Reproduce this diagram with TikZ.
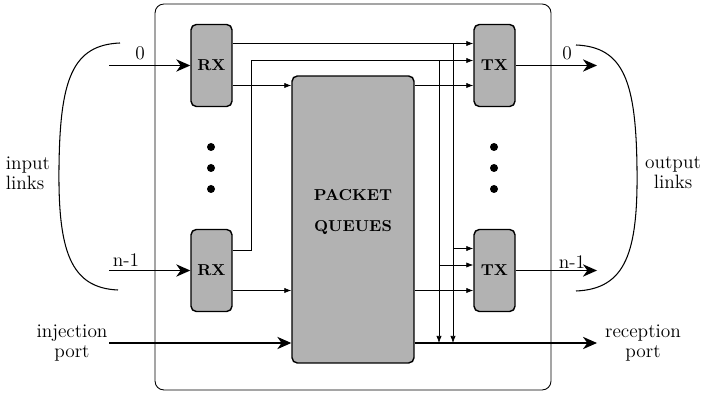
\documentclass[tikz,border=0pt]{standalone}
\usepackage{tikz}
\usetikzlibrary{arrows.meta, positioning, calc}
\definecolor{boxgray}{RGB}{178,178,178}

\begin{document}
\begin{tikzpicture}[
    x=0.02cm, y=-0.02cm,
    unit/.style={rectangle, rounded corners=3pt, draw, line width=0.8pt, fill=boxgray, minimum width=0.82cm, minimum height=1.64cm, inner sep=0pt, font=\small\bfseries},
    arr/.style={-{Latex[length=4pt,width=3pt]}, line width=0.4pt},
    bigarr/.style={-{Stealth[length=8pt,width=7pt,inset=2.5pt]}, line width=0.8pt},
    lbl/.style={font=\fontsize{11}{11.5}\selectfont, align=center, inner sep=0pt},
    dot/.style={circle, fill, inner sep=0pt, minimum size=0.16cm}
]
\useasboundingbox (0,0) rectangle (702,394);

% Router frame
\node[draw, rounded corners=5pt, line width=0.5pt, minimum width=7.92cm, minimum height=7.72cm, inner sep=0pt] (router) at (353,197) {};

% Receivers and transmitters
\node[unit] (rx0) at (211.5,65.5) {RX};
\node[unit] (rxn) at (211.5,270.5) {RX};
\node[unit] (tx0) at (494.5,65.5) {TX};
\node[unit] (txn) at (494.5,270.5) {TX};

% Central node
\node[unit, minimum width=2.44cm, minimum height=5.74cm] (queues) at (353,219.5) {};
\node[font=\small\bfseries, align=center, inner sep=0pt] (qlabel) at (353,212) {PACKET\\[7pt]QUEUES};

% Dots
\foreach \y in {147,168,189} {
    \node[dot] (rxdot\y) at (211,\y) {};
    \node[dot] (txdot\y) at (494,\y) {};
}

% Free ends
\coordinate (in0) at (109,65.5);
\coordinate (inn) at (109,270.5);
\coordinate (out0) at (597,65.5);
\coordinate (outn) at (597,270.5);
\coordinate (inj) at (109,343);
\coordinate (recv) at (597,343);
\coordinate (tapa) at (453,0);
\coordinate (tapb) at (439,0);

% TX inputs
\coordinate (tx0a) at ([yshift=0.44cm]tx0.west);
\coordinate (tx0b) at ([yshift=0.1cm]tx0.west);
\coordinate (tx0c) at ([yshift=-0.4cm]tx0.west);
\coordinate (txna) at ([yshift=0.44cm]txn.west);
\coordinate (txnb) at ([yshift=0.11cm]txn.west);
\coordinate (txnc) at ([yshift=-0.4cm]txn.west);

% Links and ports
\draw[bigarr] (in0) -- (rx0.west);
\draw[bigarr] (inn) -- (rxn.west);
\draw[bigarr] (tx0.east) -- (out0);
\draw[bigarr] (txn.east) -- (outn);
\draw[bigarr] (inj) -- (inj -| queues.west);
\draw[bigarr] (recv -| queues.east) -- (recv);

% Connections
\draw[arr] (rx0.east |- tx0a) -- (tx0a);
\draw[arr] ([yshift=-0.4cm]rx0.east) -- ([yshift=-0.4cm]rx0.east -| queues.west);
\draw[arr] ([yshift=-0.4cm]rxn.east) -- ([yshift=-0.4cm]rxn.east -| queues.west);
\draw[arr] ([yshift=0.4cm]rxn.east) -- ++(19,0) |- (tx0b);
\draw[arr] (tx0c -| queues.east) -- (tx0c);
\draw[arr] (txnc -| queues.east) -- (txnc);
\draw[arr] (tx0a -| tapa) -- (recv -| tapa);
\draw[arr] (tx0b -| tapb) -- (recv -| tapb);
\draw[arr] (txna -| tapa) -- (txna);
\draw[arr] (txnb -| tapb) -- (txnb);

% Braces
\draw[line width=0.6pt] (120,43) .. controls (72,45) and (60,80) .. (59,167) .. controls (58,250) and (70,288) .. (118,290);
\draw[line width=0.6pt] (576,45) .. controls (624,47) and (636,82) .. (637,169) .. controls (638,252) and (626,289) .. (576,291);

% Labels
\node[lbl, align=left] (inlinks) at (28,173) {input\\links};
\node[lbl] (outlinks) at (673,173) {output\\links};
\node[lbl] (injlbl) at (72,343) {injection\\port};
\node[lbl] (recvlbl) at (643,343) {reception\\port};
\node[lbl] (zeroin) at (140,53) {0};
\node[lbl] (zeroout) at (567,53) {0};
\node[lbl] (lastin) at (126,260) {n-1};
\node[lbl] (lastout) at (572,262) {n-1};
\end{tikzpicture}
\end{document}
